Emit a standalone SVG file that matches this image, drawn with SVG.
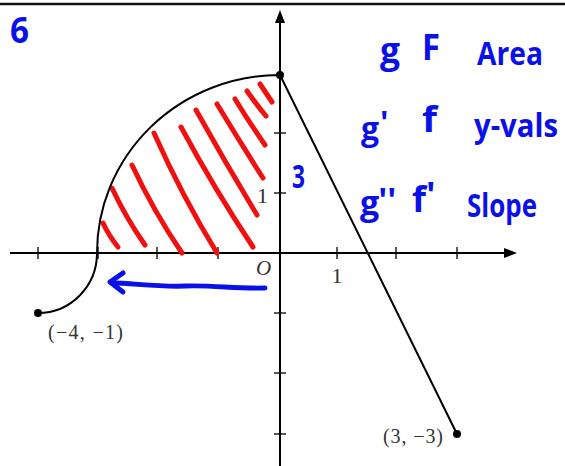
<svg xmlns="http://www.w3.org/2000/svg" width="565" height="466" viewBox="0 0 565 466">
<style>
.ax{stroke:#000;stroke-width:2;fill:none}
.tk{stroke:#000;stroke-width:1.3;fill:none}
.cv{stroke:#000;stroke-width:2;fill:none}
.hatch{stroke:#f01010;stroke-width:5;fill:none;stroke-linecap:round}
.ink{fill:#0a10e8;font-family:"Open Sans","DejaVu Sans",sans-serif;font-weight:bold}
.inkline{stroke:#0a10e8;stroke-width:5;fill:none;stroke-linecap:round;stroke-linejoin:round}
.lbl{fill:#333;font-family:"Liberation Serif","Times New Roman",serif}
</style>
<rect width="565" height="466" fill="#fff"/>
<line x1="0" y1="4" x2="565" y2="4" stroke="#111" stroke-width="2.4"/>
<g id="axes">
<line class="ax" x1="10" y1="253" x2="508" y2="253"/>
<polygon points="517,253 504,248 504,258" fill="#000"/>
<line class="ax" x1="280" y1="466" x2="280" y2="20"/>
<polygon points="280,10 275,23 285,23" fill="#000"/>
<g class="tk">
<line x1="38" y1="247" x2="38" y2="259"/>
<line x1="98" y1="247" x2="98" y2="259"/>
<line x1="157" y1="247" x2="157" y2="259"/>
<line x1="218" y1="247" x2="218" y2="259"/>
<line x1="337" y1="247" x2="337" y2="259"/>
<line x1="396" y1="247" x2="396" y2="259"/>
<line x1="457" y1="247" x2="457" y2="259"/>
<line x1="274" y1="193" x2="286" y2="193"/>
<line x1="274" y1="133" x2="286" y2="133"/>
<line x1="274" y1="313" x2="286" y2="313"/>
<line x1="274" y1="373" x2="286" y2="373"/>
<line x1="274" y1="434" x2="286" y2="434"/>
</g>
<text class="lbl" x="256" y="275" font-style="italic" font-size="21">O</text>
<text class="lbl" x="337" y="283" text-anchor="middle" font-size="22">1</text>
<text class="lbl" x="262.5" y="203" text-anchor="middle" font-size="22">1</text>
</g>
<g id="hatching">
<path class="hatch" d="M103,223 Q109,236 118,247"/>
<path class="hatch" d="M112,188 Q126,218 145,245"/>
<path class="hatch" d="M132,165 Q154,212 182,253"/>
<path class="hatch" d="M154,133 Q182,196 217,253"/>
<path class="hatch" d="M181,127 Q215,190 253,247"/>
<path class="hatch" d="M196,110 Q225,162 257,215"/>
<path class="hatch" d="M217,104 Q240,142 263,178"/>
<path class="hatch" d="M235,99 Q249,122 265,145"/>
<path class="hatch" d="M247,91 Q256,104 266,116"/>
<path class="hatch" d="M260,84 Q266,93 272,102"/>
</g>
<g id="graph">
<path class="cv" d="M38,313 A59,60 0 0 0 97,253 A183,178 0 0 1 280,75 L457,434"/>
<circle cx="38" cy="313" r="4" fill="#000"/>
<circle cx="280" cy="75" r="4" fill="#000"/>
<circle cx="457" cy="434" r="4" fill="#000"/>
<text class="lbl" x="48" y="339" font-size="20" textLength="75" lengthAdjust="spacing">(−4, −1)</text>
<text class="lbl" x="383" y="443" font-size="20" textLength="60" lengthAdjust="spacing">(3, −3)</text>
</g>
<g id="annotations">
<path class="inkline" d="M265,288 C235,289 215,285 185,286 C155,287 132,283 112,283"/>
<path class="inkline" d="M123,273 L110,282 L123,292"/>
<text class="ink" x="10" y="43" font-size="36" textLength="19" lengthAdjust="spacingAndGlyphs">6</text>
<text class="ink" x="292" y="188" font-size="32" textLength="13" lengthAdjust="spacingAndGlyphs">3</text>
<text class="ink" x="380" y="63" font-size="36" textLength="20" lengthAdjust="spacingAndGlyphs">g</text>
<text class="ink" x="422" y="60" font-size="36" textLength="18" lengthAdjust="spacingAndGlyphs">F</text>
<text class="ink" x="477" y="65" font-size="32" textLength="66" lengthAdjust="spacingAndGlyphs">Area</text>
<text class="ink" x="361" y="140" font-size="32">g<tspan dx="1" dy="-6">'</tspan></text>
<text class="ink" x="422" y="132" font-size="36" textLength="15" lengthAdjust="spacingAndGlyphs">f</text>
<text class="ink" x="474" y="137" font-size="32" textLength="84" lengthAdjust="spacingAndGlyphs">y-vals</text>
<text class="ink" x="360" y="215" font-size="34">g<tspan dx="-1" dy="-3">''</tspan></text>
<text class="ink" x="412" y="212" font-size="36">f<tspan dx="0" dy="-4">'</tspan></text>
<text class="ink" x="467" y="217" font-size="32" textLength="70" lengthAdjust="spacingAndGlyphs">Slope</text>
</g>
</svg>
